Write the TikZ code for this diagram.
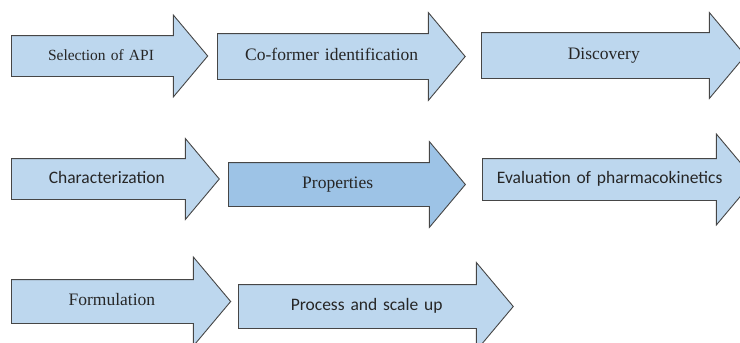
\documentclass[tikz,border=0pt]{standalone}
\usepackage{fontspec}
\setmainfont{Liberation Serif}
\newfontfamily\calibri{Carlito}
\usepackage{tikz}
\usetikzlibrary{shapes.arrows}
\definecolor{stagefill}{RGB}{189,215,238}
\definecolor{keyfill}{RGB}{157,195,230}
\definecolor{stageline}{RGB}{70,70,70}
\tikzset{
    stagenode/.style = {shape=single arrow, draw=stageline,
        fill=stagefill, line width=0.9pt,
        single arrow tip angle=100,
        inner xsep=0pt, align=center,
        text height=12pt, text depth=4pt,
        anchor=tail, text=black!85},
    keystage/.style    = {stagenode, fill=keyfill},
    % half shaft width, half head width
    arrowsize/.style 2 args = {inner ysep=#1pt-8pt,
        single arrow head extend=#2pt-#1pt},
    % the text box runs on into the head
    shaftlength/.style = {text width=#1pt},
    serifname/.style   = {font=\fontsize{17.5}{20}\selectfont},
    sansname/.style    = {font=\calibri\fontsize{17.5}{20}\selectfont}
}

\begin{document}
\begin{tikzpicture}[x=1pt, y=-1pt]
    \useasboundingbox (0,0) rectangle (740,343);
    \clip (0,0) rectangle (740,343);
    % first row
    \node[stagenode, arrowsize={20}{40.5}, shaftlength=178.2,
        font=\fontsize{15.5}{18}\selectfont] (api) at (11,56) {Selection of API};
    \node[stagenode, serifname, arrowsize={22.5}{43.5}, shaftlength=227.6]
        (coformer) at (217,56.5) {Co-former identification};
    \node[stagenode, serifname, arrowsize={22.5}{42.5}, shaftlength=243.8]
        (discovery) at (481,55.5) {Discovery};
    % second row
    \node[stagenode, sansname, arrowsize={20}{40}, shaftlength=189.8]
        (charact) at (11,179) {Characterization};
    \node[keystage, serifname, arrowsize={21.5}{42.5}, shaftlength=217.6]
        (props) at (228,184.5) {Properties};
    \node[stagenode, sansname, arrowsize={20.5}{45}, shaftlength=253.6]
        (pkinetics) at (482,179.5) {Evaluation of pharmacokinetics};
    % third row
    \node[stagenode, serifname, arrowsize={21.5}{44}, shaftlength=199.9]
        (formulation) at (11,301.5) {Formulation};
    \node[stagenode, sansname, arrowsize={21.5}{43.5}, shaftlength=255.5]
        (scaleup) at (238,306.5) {Process and scale up};
\end{tikzpicture}
\end{document}
